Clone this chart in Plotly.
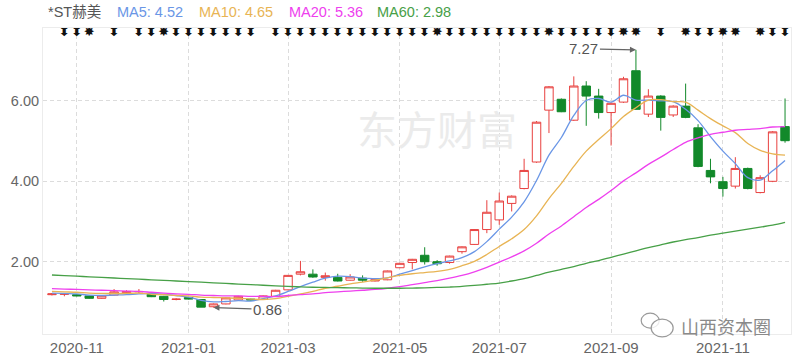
import plotly.graph_objects as go

weeks = ["2020-10-19","2020-10-26","2020-11-02","2020-11-09","2020-11-16","2020-11-23","2020-11-30",
         "2020-12-07","2020-12-14","2020-12-21","2020-12-28","2021-01-04","2021-01-11","2021-01-18",
         "2021-01-25","2021-02-01","2021-02-08","2021-02-18","2021-02-22","2021-03-01","2021-03-08",
         "2021-03-15","2021-03-22","2021-03-29","2021-04-06","2021-04-12","2021-04-19","2021-04-26",
         "2021-05-06","2021-05-10","2021-05-17","2021-05-24","2021-05-31","2021-06-07","2021-06-15",
         "2021-06-21","2021-06-28","2021-07-05","2021-07-12","2021-07-19","2021-07-26","2021-08-02",
         "2021-08-09","2021-08-16","2021-08-23","2021-08-30","2021-09-06","2021-09-13","2021-09-22",
         "2021-09-27","2021-10-08","2021-10-11","2021-10-18","2021-10-25","2021-11-01","2021-11-08",
         "2021-11-15","2021-11-22","2021-11-29","2021-12-06"]

open_ = [1.18,1.19,1.18,1.15,1.09,1.17,1.23,1.25,1.19,1.14,1.06,1.11,1.06,0.88,0.95,1.05,1.07,1.06,1.14,1.30,
         1.69,1.69,1.61,1.61,1.54,1.59,1.52,1.55,1.85,1.98,2.16,2.00,1.98,2.25,2.43,2.80,3.04,3.45,3.82,4.48,
         5.77,6.04,5.52,6.37,6.12,5.71,5.97,6.75,5.67,6.12,5.65,5.87,5.33,4.27,3.99,3.88,4.32,3.72,4.00,5.36]
high = [1.22,1.21,1.19,1.16,1.16,1.32,1.29,1.32,1.21,1.15,1.09,1.12,1.07,0.96,1.11,1.15,1.08,1.16,1.30,1.67,
        2.02,1.81,1.73,1.70,1.69,1.66,1.56,1.78,1.97,2.07,2.36,2.04,2.15,2.38,2.81,3.53,3.72,3.65,4.56,5.50,
        6.37,6.06,6.61,6.49,6.30,5.96,6.60,7.27,6.29,6.14,5.89,6.43,5.42,4.56,4.11,4.60,4.34,4.15,5.25,6.06]
low = [1.16,1.14,1.14,1.08,1.08,1.16,1.20,1.22,1.12,1.01,1.04,1.06,0.87,0.86,0.94,1.04,1.04,1.05,1.13,1.29,
       1.66,1.60,1.53,1.51,1.53,1.50,1.51,1.54,1.84,1.81,1.93,1.90,1.95,2.20,2.42,2.71,2.92,3.25,3.80,4.46,
       5.20,5.72,5.50,5.38,5.56,4.89,5.95,5.78,5.60,5.26,5.60,5.57,4.35,3.95,3.62,3.82,3.80,3.70,3.98,4.96]
close = [1.20,1.20,1.15,1.09,1.15,1.25,1.26,1.26,1.13,1.06,1.07,1.07,0.87,0.95,1.10,1.14,1.05,1.15,1.29,1.66,
         1.75,1.62,1.65,1.52,1.62,1.54,1.55,1.77,1.96,2.06,2.00,1.95,2.14,2.37,2.80,3.23,3.51,3.63,4.27,5.47,
         6.35,5.73,6.37,6.12,5.71,5.94,6.55,5.79,6.12,5.59,5.87,5.59,4.37,4.11,3.82,4.32,3.82,4.09,5.23,5.01]

ma5 = [1.22,1.21,1.20,1.17,1.16,1.17,1.18,1.20,1.21,1.19,1.16,1.12,1.04,1.00,1.01,1.03,1.02,1.08,1.15,1.26,
       1.38,1.49,1.59,1.64,1.63,1.59,1.58,1.60,1.69,1.78,1.87,1.95,2.02,2.10,2.25,2.50,2.81,3.11,3.49,4.02,
       4.65,5.09,5.64,6.01,6.06,5.97,6.14,6.02,6.02,6.00,5.98,5.79,5.51,5.11,4.75,4.44,4.09,4.03,4.26,4.52]
ma10 = [1.26,1.25,1.24,1.22,1.21,1.21,1.21,1.22,1.19,1.18,1.16,1.15,1.12,1.11,1.10,1.09,1.07,1.06,1.08,1.14,
        1.20,1.26,1.34,1.39,1.45,1.49,1.54,1.60,1.66,1.70,1.73,1.76,1.81,1.90,2.01,2.18,2.38,2.57,2.80,3.14,
        3.57,3.95,4.37,4.75,5.04,5.31,5.61,5.83,6.02,6.03,5.98,5.97,5.77,5.56,5.38,5.21,4.94,4.77,4.68,4.65]
ma20 = [1.33,1.32,1.31,1.30,1.29,1.28,1.27,1.26,1.24,1.22,1.20,1.19,1.17,1.16,1.15,1.15,1.14,1.14,1.13,1.16,
        1.18,1.20,1.23,1.25,1.27,1.29,1.31,1.34,1.38,1.43,1.48,1.53,1.59,1.66,1.75,1.86,1.99,2.12,2.27,2.46,
        2.69,2.89,3.12,3.35,3.55,3.77,4.01,4.21,4.42,4.60,4.79,4.97,5.08,5.17,5.22,5.27,5.29,5.31,5.35,5.36]
ma60 = [1.67,1.655,1.64,1.625,1.61,1.595,1.58,1.565,1.55,1.535,1.52,1.505,1.49,1.475,1.46,1.445,1.43,1.415,1.40,1.385,
        1.375,1.365,1.36,1.355,1.35,1.345,1.34,1.34,1.34,1.345,1.35,1.36,1.37,1.385,1.41,1.44,1.47,1.52,1.58,1.66,
        1.74,1.81,1.88,1.96,2.03,2.11,2.19,2.27,2.35,2.42,2.49,2.55,2.60,2.66,2.71,2.76,2.81,2.86,2.91,2.98]

arrow_weeks = [1,2,5,7,8,10,11,12,13,14,15,16,18,19,20,21,22,23,24,25,26,27,28,29,30,32,33,34,35,36,
               37,38,39,41,42,43,44,45,49,52,53,58,59]
star_weeks = [3,9,31,40,46,47,51,54,55,57]

tick_weeks = ["2020-11-02","2021-01-04","2021-03-01","2021-05-06","2021-06-28","2021-08-30","2021-11-01"]
tick_text = ["2020-11","2021-01","2021-03","2021-05","2021-07","2021-09","2021-11"]
y_ticks = [2, 4, 6]

legend_items = [("*ST赫美", "#555555"), ("MA5: 4.52", "#6a96e6"), ("MA10: 4.65", "#e8b454"),
                ("MA20: 5.36", "#ee40ee"), ("MA60: 2.98", "#47a047")]
legend_px = [46, 115, 197, 287, 375]

RED = "#e8403f"
GREEN = "#12892a"
FONT = "Liberation Sans, Arial, Noto Sans CJK SC, sans-serif"

W, H = 800, 364
L, R, T, B = 43, 8, 28, 27
pw, ph = W - L - R, H - T - B

def px_x(px):
    return (px - L) / pw

def px_y(py):
    return (H - B - py) / ph

fig = go.Figure()

# watermark beneath everything
fig.add_trace(go.Scatter(x=[weeks[31]], y=[5.15], mode="text", text=["东方财富"],
                         textfont=dict(size=40, color="#ebebeb", family="Noto Sans CJK SC"),
                         hoverinfo="skip", showlegend=False))

fig.add_trace(go.Candlestick(
    x=weeks, open=open_, high=high, low=low, close=close,
    increasing=dict(line=dict(color=RED, width=1), fillcolor="#ffffff"),
    decreasing=dict(line=dict(color=GREEN, width=1), fillcolor=GREEN),
    whiskerwidth=0, showlegend=False, hoverinfo="skip"))

for vals, col in [(ma5, "#6a96e6"), (ma10, "#e8b454"), (ma20, "#ee40ee"), (ma60, "#47a047")]:
    fig.add_trace(go.Scatter(x=weeks, y=vals, mode="lines", line=dict(color=col, width=1.3, shape="spline"),
                             hoverinfo="skip", showlegend=False))

fig.add_trace(go.Scatter(x=[weeks[i] for i in arrow_weeks], y=[7.69] * len(arrow_weeks), mode="text",
                         text=["⬍"] * len(arrow_weeks),
                         textfont=dict(size=14, color="#111111", family="DejaVu Sans"),
                         hoverinfo="skip", showlegend=False))
fig.add_trace(go.Scatter(x=[weeks[i] for i in star_weeks], y=[7.69] * len(star_weeks), mode="text",
                         text=["✸"] * len(star_weeks),
                         textfont=dict(size=13, color="#111111", family="DejaVu Sans"),
                         hoverinfo="skip", showlegend=False))

annotations = []
for (txt, col), px in zip(legend_items, legend_px):
    annotations.append(dict(xref="paper", yref="paper", x=px_x(px), y=px_y(12), text=txt,
                            showarrow=False, xanchor="left", yanchor="middle",
                            font=dict(size=14.5, color=col, family=FONT)))

annotations.append(dict(x=weeks[47], y=7.27, xref="x", yref="y", text="7.27", showarrow=True,
                        ax=-52, ay=-1, arrowhead=2, arrowsize=1, arrowwidth=1.2, arrowcolor="#666666",
                        font=dict(size=15, color="#555555", family=FONT)))
annotations.append(dict(x=weeks[13], y=0.86, xref="x", yref="y", text="0.86", showarrow=True,
                        ax=54, ay=2, arrowhead=2, arrowsize=1, arrowwidth=1.2, arrowcolor="#666666",
                        font=dict(size=15, color="#555555", family=FONT)))
annotations.append(dict(xref="paper", yref="paper", x=px_x(727), y=px_y(329), text="山西资本圈",
                        showarrow=False, xanchor="center", yanchor="middle",
                        font=dict(size=18, color="#8a8a8a", family="Noto Sans CJK SC")))

shapes = [
    dict(type="circle", xref="paper", yref="paper", x0=px_x(642), x1=px_x(660), y0=px_y(331), y1=px_y(316),
         line=dict(color="#9a9a9a", width=1.2)),
    dict(type="circle", xref="paper", yref="paper", x0=px_x(652), x1=px_x(674), y0=px_y(340), y1=px_y(322),
         line=dict(color="#9a9a9a", width=1.2), fillcolor="rgba(255,255,255,0.8)"),
]

fig.update_layout(
    width=W, height=H, margin=dict(l=L, r=R, t=T, b=B),
    paper_bgcolor="#ffffff", plot_bgcolor="#ffffff",
    annotations=annotations, shapes=shapes,
    boxgap=0.15, boxgroupgap=0.2,
    xaxis=dict(type="category", categoryorder="array", categoryarray=weeks,
               range=[-0.72, 59.48], rangeslider=dict(visible=False),
               tickmode="array", tickvals=tick_weeks, ticktext=tick_text,
               showgrid=True, gridcolor="#dcdcdc", griddash="4px,3px", gridwidth=1,
               showline=True, linecolor="#ececec", mirror=True, ticks="",
               tickfont=dict(size=15, color="#666666", family=FONT), fixedrange=True),
    yaxis=dict(range=[0.202, 7.813], tickmode="array", tickvals=y_ticks, tickformat=".2f",
               showgrid=True, gridcolor="#dcdcdc", griddash="4px,3px", gridwidth=1,
               showline=True, linecolor="#ececec", mirror=True, ticks="", zeroline=False,
               tickfont=dict(size=14.5, color="#666666", family=FONT), fixedrange=True),
    showlegend=False,
)

fig.write_html("out.html")
